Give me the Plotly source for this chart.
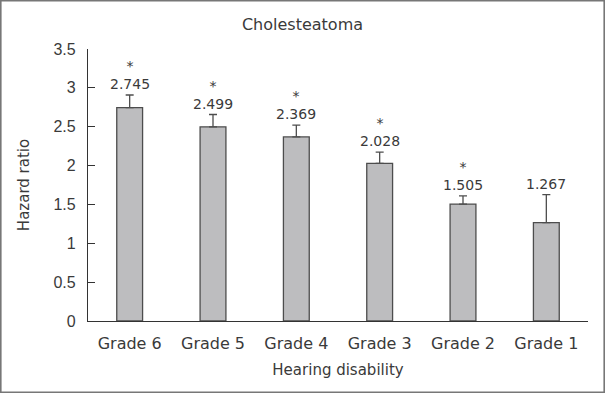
import plotly.graph_objects as go

categories = ["Grade 6", "Grade 5", "Grade 4", "Grade 3", "Grade 2", "Grade 1"]
hazard_ratio = [2.745, 2.499, 2.369, 2.028, 1.505, 1.267]
upper_ci = [2.908, 2.657, 2.52, 2.174, 1.61, 1.625]
significant = [True, True, True, True, True, False]
y_ticks = [0, 0.5, 1, 1.5, 2, 2.5, 3, 3.5]
y_tick_labels = ["0", "0.5", "1", "1.5", "2", "2.5", "3", "3.5"]

err_plus = [u - v for u, v in zip(upper_ci, hazard_ratio)]

label_font = "DejaVu Sans"
num_font = "Liberation Sans, Arial"
text_col = "#3a3a3a"

fig = go.Figure()
fig.add_trace(go.Bar(
    x=categories, y=hazard_ratio,
    marker=dict(color="#bdbdbf", line=dict(color="#4d4d4d", width=1.3)),
    error_y=dict(type="data", symmetric=False, array=err_plus,
                 arrayminus=[0] * len(err_plus),
                 color="#4d4d4d", thickness=1.3, width=4),
    showlegend=False,
    hoverinfo="skip",
))

for c, v, u, s in zip(categories, hazard_ratio, upper_ci, significant):
    txt = ("*<br>" if s else "") + f"{v:.3f}"
    fig.add_annotation(x=c, y=u, text=txt, showarrow=False, xref="x", yref="y",
                       yanchor="bottom", yshift=1,
                       font=dict(family=label_font, size=14, color=text_col))

fig.update_layout(
    width=605, height=394,
    margin=dict(l=88, r=17, t=49, b=73),
    paper_bgcolor="white", plot_bgcolor="white",
    bargap=0.69,
    title=dict(text="Cholesteatoma", x=0.5, xanchor="center", y=1 - 24 / 394, yanchor="middle",
               font=dict(family=label_font, size=16, color=text_col)),
    xaxis=dict(showline=True, linecolor="#333", linewidth=1.3, ticks="", automargin=False,
               ticklabelstandoff=8,
               tickfont=dict(family=label_font, size=16, color=text_col),
               title=dict(text="Hearing disability", standoff=12,
                          font=dict(family=label_font, size=15, color=text_col))),
    yaxis=dict(range=[0, 3.5], tickvals=y_ticks, ticktext=y_tick_labels, automargin=False,
               showline=True, linecolor="#333", linewidth=1.3, showgrid=False,
               zeroline=False, ticks="inside", ticklen=7, tickcolor="#333", tickwidth=1.3,
               ticklabelstandoff=8,
               tickfont=dict(family=num_font, size=16, color=text_col),
               title=dict(text="Hazard ratio", standoff=20,
                          font=dict(family=label_font, size=15, color=text_col))),
    shapes=[dict(type="rect", xref="paper", yref="paper",
                 x0=-87.2 / 500, x1=(604.2 - 88) / 500,
                 y0=(321 - 392.2) / 272, y1=(321 - 0.8) / 272,
                 line=dict(color="#777", width=1.6), fillcolor="rgba(0,0,0,0)",
                 layer="above")],
)

fig.write_html("out.html", config={"displayModeBar": False},
               post_script="document.body.style.margin='0';document.body.style.overflow='hidden';")
